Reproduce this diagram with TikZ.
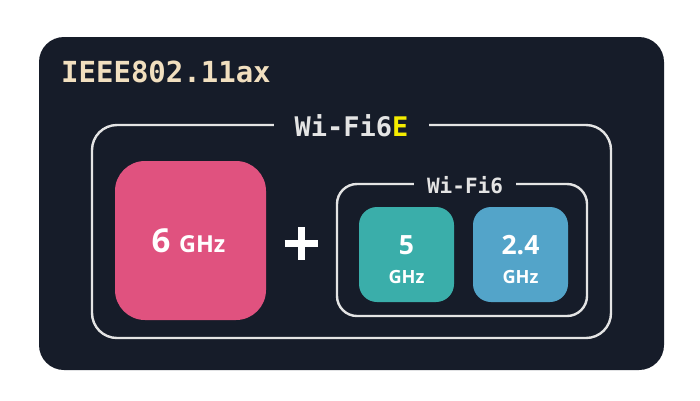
\documentclass[tikz,border=0pt]{standalone}
\usepackage{fontspec}
\setmainfont{Open Sans}
\setmonofont{DejaVu Sans Mono}
\definecolor{bg}{HTML}{161C29}
\definecolor{strokec}{HTML}{E4E4E4}
\definecolor{titlec}{HTML}{F1DFBF}
\definecolor{yelc}{HTML}{F5EC00}
\definecolor{pinkc}{HTML}{E0527F}
\definecolor{tealc}{HTML}{3AAEAA}
\definecolor{bluec}{HTML}{53A4C9}
\tikzset{
  panel/.style={fill=bg, rounded corners=25pt, inner sep=0pt},
  frame/.style={draw=strokec, line width=2.4pt, rounded corners=#1, inner sep=0pt},
  band/.style={fill=#1, rounded corners=30pt, inner sep=0pt},
  small band/.style={fill=#1, rounded corners=18pt, inner sep=0pt, minimum width=95pt, minimum height=95pt},
  lbl/.style={fill=bg, text=strokec, font=\ttfamily\bfseries, inner ysep=1pt, anchor=base},
  big/.style={text=white, font=\bfseries, inner sep=0pt, anchor=base},
}
\begin{document}
\begin{tikzpicture}[x=1pt,y=-1pt]
\useasboundingbox (0,0) rectangle (700,400);
\fill[white] (0,0) rectangle (700,400);
\node[panel, minimum width=625pt, minimum height=333pt] (panel) at (351.5,203.5) {};
\node[anchor=base west, inner sep=0pt, text=titlec, font=\ttfamily\bfseries\fontsize{29}{30}\selectfont] (title) at (61,82) {IEEE802.11ax};
% Wi-Fi6E frame
\node[frame=25pt, minimum width=519pt, minimum height=213pt] (wf6e) at (351.5,231.5) {};
\node[lbl, inner xsep=21pt, font=\ttfamily\bfseries\fontsize{27}{28}\selectfont] (wf6elbl) at (351.5,136) {Wi-Fi6\textcolor{yelc}{E}};
% 6 GHz
\node[band=pinkc, minimum width=151pt, minimum height=159pt] (six) at (190.5,240.5) {};
\node[big] (sixtxt) at (188.5,252) {\bfseries\fontsize{33}{34}\selectfont 6 \fontsize{23.4}{24}\selectfont GHz};
% plus
\draw[white, line width=7pt] (284.7,243.6) -- (318.3,243.6);
\draw[white, line width=7pt] (301.5,227) -- (301.5,260.2);
% Wi-Fi6 frame
\node[frame=20pt, minimum width=250pt, minimum height=132pt] (wf6) at (462,250) {};
\node[lbl, inner xsep=13pt, font=\ttfamily\bfseries\fontsize{21}{22}\selectfont] (wf6lbl) at (465,193) {Wi-Fi6};
% 5 GHz
\node[small band=tealc] (five) at (406.5,254.5) {};
\node[big, font=\bfseries\fontsize{26.5}{27}\selectfont] (fivenum) at (406.5,254) {5};
\node[big, font=\bfseries\fontsize{18.2}{19}\selectfont] (fiveunit) at (406.5,283.3) {GHz};
% 2.4 GHz
\node[small band=bluec] (two) at (520.5,254.5) {};
\node[big, font=\bfseries\fontsize{26.5}{27}\selectfont] (twonum) at (520.5,254) {2.4};
\node[big, font=\bfseries\fontsize{18.2}{19}\selectfont] (twounit) at (520.5,283.3) {GHz};
\end{tikzpicture}
\end{document}
